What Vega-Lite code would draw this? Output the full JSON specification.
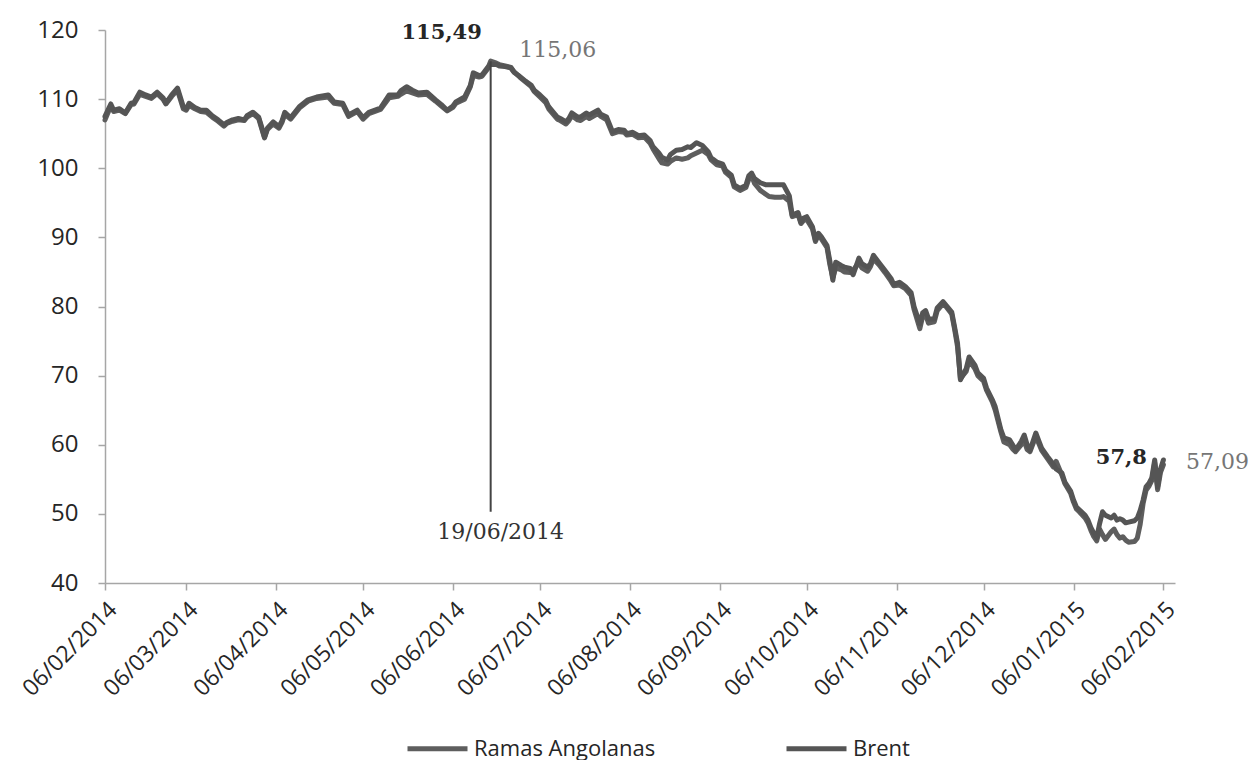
{
  "$schema": "https://vega.github.io/schema/vega-lite/v6.json",
  "width": 1070,
  "height": 553,
  "autosize": {"type": "none"},
  "padding": {"left": 105, "top": 30, "right": 80, "bottom": 177},
  "background": "white",
  "config": {"view": {"stroke": null}},
  "encoding": {
    "x": {
      "field": "date", "type": "temporal",
      "scale": {"type": "utc", "domain": [{"year": 2014, "month": 2, "date": 6, "utc": true}, {"year": 2015, "month": 2, "date": 10, "utc": true}], "nice": false},
      "axis": {
        "title": null, "grid": false, "format": "%d/%m/%Y",
        "values": [
          {"year": 2014, "month": 2, "date": 6, "utc": true}, {"year": 2014, "month": 3, "date": 6, "utc": true},
          {"year": 2014, "month": 4, "date": 6, "utc": true}, {"year": 2014, "month": 5, "date": 6, "utc": true},
          {"year": 2014, "month": 6, "date": 6, "utc": true}, {"year": 2014, "month": 7, "date": 6, "utc": true},
          {"year": 2014, "month": 8, "date": 6, "utc": true}, {"year": 2014, "month": 9, "date": 6, "utc": true},
          {"year": 2014, "month": 10, "date": 6, "utc": true}, {"year": 2014, "month": 11, "date": 6, "utc": true},
          {"year": 2014, "month": 12, "date": 6, "utc": true}, {"year": 2015, "month": 1, "date": 6, "utc": true},
          {"year": 2015, "month": 2, "date": 6, "utc": true}
        ],
        "labelAngle": -45, "labelFont": "Open Sans", "labelFontSize": 23, "labelColor": "#262626",
        "domainColor": "#a6a6a6", "domainWidth": 1.5, "tickColor": "#a6a6a6", "tickWidth": 1.5, "tickSize": 7,
        "labelPadding": 8, "labelOverlap": false, "labelBound": false, "labelFlush": false
      }
    },
    "y": {
      "field": "value", "type": "quantitative",
      "scale": {"domain": [40, 120], "nice": false, "zero": false},
      "axis": {
        "title": null, "grid": false, "values": [40, 50, 60, 70, 80, 90, 100, 110, 120],
        "labelFont": "Open Sans", "labelFontSize": 24, "labelColor": "#262626",
        "domainColor": "#a6a6a6", "domainWidth": 1.5, "tickColor": "#a6a6a6", "tickWidth": 1.5, "tickSize": 7,
        "labelPadding": 20
      }
    }
  },
  "layer": [
    {
      "data": {"values": [
        {"date": "2014-02-06", "Brent": 107.5, "Ramas Angolanas": 107.0},
        {"date": "2014-02-08", "Brent": 109.3, "Ramas Angolanas": 109.0},
        {"date": "2014-02-09", "Brent": 108.4, "Ramas Angolanas": 108.2},
        {"date": "2014-02-11", "Brent": 108.6, "Ramas Angolanas": 108.4},
        {"date": "2014-02-13", "Brent": 108.0, "Ramas Angolanas": 107.9},
        {"date": "2014-02-15", "Brent": 109.4, "Ramas Angolanas": 109.2},
        {"date": "2014-02-16", "Brent": 109.5, "Ramas Angolanas": 109.3},
        {"date": "2014-02-18", "Brent": 111.0, "Ramas Angolanas": 110.7},
        {"date": "2014-02-20", "Brent": 110.6, "Ramas Angolanas": 110.4},
        {"date": "2014-02-22", "Brent": 110.3, "Ramas Angolanas": 110.1},
        {"date": "2014-02-24", "Brent": 111.0, "Ramas Angolanas": 110.8},
        {"date": "2014-02-26", "Brent": 110.2, "Ramas Angolanas": 110.0},
        {"date": "2014-02-27", "Brent": 109.4, "Ramas Angolanas": 109.3},
        {"date": "2014-03-01", "Brent": 110.6, "Ramas Angolanas": 110.4},
        {"date": "2014-03-03", "Brent": 111.6, "Ramas Angolanas": 111.3},
        {"date": "2014-03-05", "Brent": 108.9, "Ramas Angolanas": 108.6},
        {"date": "2014-03-06", "Brent": 108.6, "Ramas Angolanas": 108.4},
        {"date": "2014-03-07", "Brent": 109.4, "Ramas Angolanas": 109.1},
        {"date": "2014-03-09", "Brent": 108.8, "Ramas Angolanas": 108.6},
        {"date": "2014-03-11", "Brent": 108.4, "Ramas Angolanas": 108.2},
        {"date": "2014-03-13", "Brent": 108.4, "Ramas Angolanas": 108.1},
        {"date": "2014-03-15", "Brent": 107.6, "Ramas Angolanas": 107.4},
        {"date": "2014-03-16", "Brent": 107.3, "Ramas Angolanas": 107.1},
        {"date": "2014-03-17", "Brent": 107.0, "Ramas Angolanas": 106.8},
        {"date": "2014-03-19", "Brent": 106.3, "Ramas Angolanas": 106.1},
        {"date": "2014-03-20", "Brent": 106.6, "Ramas Angolanas": 106.5},
        {"date": "2014-03-22", "Brent": 107.0, "Ramas Angolanas": 106.8},
        {"date": "2014-03-24", "Brent": 107.2, "Ramas Angolanas": 107.0},
        {"date": "2014-03-26", "Brent": 107.0, "Ramas Angolanas": 106.9},
        {"date": "2014-03-27", "Brent": 107.6, "Ramas Angolanas": 107.4},
        {"date": "2014-03-29", "Brent": 108.1, "Ramas Angolanas": 107.9},
        {"date": "2014-03-31", "Brent": 107.4, "Ramas Angolanas": 107.2},
        {"date": "2014-04-01", "Brent": 106.0, "Ramas Angolanas": 105.8},
        {"date": "2014-04-02", "Brent": 104.5, "Ramas Angolanas": 104.4},
        {"date": "2014-04-03", "Brent": 105.8, "Ramas Angolanas": 105.6},
        {"date": "2014-04-05", "Brent": 106.7, "Ramas Angolanas": 106.4},
        {"date": "2014-04-07", "Brent": 106.0, "Ramas Angolanas": 105.8},
        {"date": "2014-04-08", "Brent": 106.8, "Ramas Angolanas": 106.6},
        {"date": "2014-04-09", "Brent": 108.1, "Ramas Angolanas": 107.8},
        {"date": "2014-04-11", "Brent": 107.3, "Ramas Angolanas": 107.1},
        {"date": "2014-04-14", "Brent": 108.9, "Ramas Angolanas": 108.7},
        {"date": "2014-04-17", "Brent": 109.9, "Ramas Angolanas": 109.7},
        {"date": "2014-04-20", "Brent": 110.3, "Ramas Angolanas": 110.1},
        {"date": "2014-04-24", "Brent": 110.6, "Ramas Angolanas": 110.3},
        {"date": "2014-04-26", "Brent": 109.6, "Ramas Angolanas": 109.4},
        {"date": "2014-04-29", "Brent": 109.4, "Ramas Angolanas": 109.2},
        {"date": "2014-05-01", "Brent": 107.7, "Ramas Angolanas": 107.5},
        {"date": "2014-05-04", "Brent": 108.4, "Ramas Angolanas": 108.2},
        {"date": "2014-05-06", "Brent": 107.3, "Ramas Angolanas": 107.1},
        {"date": "2014-05-08", "Brent": 108.1, "Ramas Angolanas": 107.9},
        {"date": "2014-05-12", "Brent": 108.7, "Ramas Angolanas": 108.5},
        {"date": "2014-05-15", "Brent": 110.6, "Ramas Angolanas": 110.2},
        {"date": "2014-05-18", "Brent": 110.6, "Ramas Angolanas": 110.4},
        {"date": "2014-05-19", "Brent": 111.2, "Ramas Angolanas": 110.7},
        {"date": "2014-05-21", "Brent": 111.8, "Ramas Angolanas": 111.2},
        {"date": "2014-05-23", "Brent": 111.3, "Ramas Angolanas": 110.9},
        {"date": "2014-05-25", "Brent": 110.9, "Ramas Angolanas": 110.6},
        {"date": "2014-05-28", "Brent": 111.0, "Ramas Angolanas": 110.7},
        {"date": "2014-05-31", "Brent": 109.9, "Ramas Angolanas": 109.7},
        {"date": "2014-06-02", "Brent": 109.2, "Ramas Angolanas": 109.0},
        {"date": "2014-06-04", "Brent": 108.4, "Ramas Angolanas": 108.3},
        {"date": "2014-06-06", "Brent": 109.0, "Ramas Angolanas": 108.8},
        {"date": "2014-06-07", "Brent": 109.6, "Ramas Angolanas": 109.4},
        {"date": "2014-06-10", "Brent": 110.3, "Ramas Angolanas": 110.0},
        {"date": "2014-06-12", "Brent": 112.0, "Ramas Angolanas": 111.8},
        {"date": "2014-06-13", "Brent": 113.8, "Ramas Angolanas": 113.4},
        {"date": "2014-06-15", "Brent": 113.4, "Ramas Angolanas": 113.2},
        {"date": "2014-06-16", "Brent": 113.5, "Ramas Angolanas": 113.3},
        {"date": "2014-06-18", "Brent": 114.6, "Ramas Angolanas": 114.4},
        {"date": "2014-06-19", "Brent": 115.06, "Ramas Angolanas": 115.49},
        {"date": "2014-06-21", "Brent": 115.0, "Ramas Angolanas": 115.2},
        {"date": "2014-06-22", "Brent": 114.8, "Ramas Angolanas": 115.0},
        {"date": "2014-06-24", "Brent": 114.7, "Ramas Angolanas": 114.8},
        {"date": "2014-06-26", "Brent": 114.5, "Ramas Angolanas": 114.6},
        {"date": "2014-06-27", "Brent": 113.9, "Ramas Angolanas": 114.0},
        {"date": "2014-06-29", "Brent": 113.3, "Ramas Angolanas": 113.2},
        {"date": "2014-07-01", "Brent": 112.6, "Ramas Angolanas": 112.5},
        {"date": "2014-07-03", "Brent": 112.0, "Ramas Angolanas": 111.8},
        {"date": "2014-07-04", "Brent": 111.3, "Ramas Angolanas": 111.1},
        {"date": "2014-07-06", "Brent": 110.6, "Ramas Angolanas": 110.3},
        {"date": "2014-07-08", "Brent": 109.8, "Ramas Angolanas": 109.5},
        {"date": "2014-07-09", "Brent": 108.9, "Ramas Angolanas": 108.6},
        {"date": "2014-07-12", "Brent": 107.4, "Ramas Angolanas": 107.1},
        {"date": "2014-07-13", "Brent": 107.2, "Ramas Angolanas": 106.9},
        {"date": "2014-07-15", "Brent": 106.7, "Ramas Angolanas": 106.4},
        {"date": "2014-07-16", "Brent": 107.2, "Ramas Angolanas": 106.9},
        {"date": "2014-07-17", "Brent": 108.0, "Ramas Angolanas": 107.6},
        {"date": "2014-07-19", "Brent": 107.4, "Ramas Angolanas": 107.0},
        {"date": "2014-07-20", "Brent": 107.4, "Ramas Angolanas": 106.9},
        {"date": "2014-07-22", "Brent": 108.0, "Ramas Angolanas": 107.5},
        {"date": "2014-07-23", "Brent": 107.7, "Ramas Angolanas": 107.2},
        {"date": "2014-07-26", "Brent": 108.4, "Ramas Angolanas": 107.9},
        {"date": "2014-07-27", "Brent": 107.8, "Ramas Angolanas": 107.5},
        {"date": "2014-07-29", "Brent": 107.4, "Ramas Angolanas": 107.0},
        {"date": "2014-07-31", "Brent": 105.3, "Ramas Angolanas": 105.0},
        {"date": "2014-08-02", "Brent": 105.6, "Ramas Angolanas": 105.3},
        {"date": "2014-08-04", "Brent": 105.5, "Ramas Angolanas": 105.2},
        {"date": "2014-08-05", "Brent": 105.0, "Ramas Angolanas": 104.8},
        {"date": "2014-08-07", "Brent": 105.2, "Ramas Angolanas": 104.9},
        {"date": "2014-08-09", "Brent": 104.7, "Ramas Angolanas": 104.4},
        {"date": "2014-08-11", "Brent": 104.8, "Ramas Angolanas": 104.5},
        {"date": "2014-08-13", "Brent": 104.0, "Ramas Angolanas": 103.6},
        {"date": "2014-08-14", "Brent": 103.1, "Ramas Angolanas": 102.8},
        {"date": "2014-08-16", "Brent": 102.2, "Ramas Angolanas": 101.4},
        {"date": "2014-08-17", "Brent": 101.6, "Ramas Angolanas": 100.8},
        {"date": "2014-08-19", "Brent": 101.2, "Ramas Angolanas": 100.6},
        {"date": "2014-08-20", "Brent": 102.0, "Ramas Angolanas": 101.0},
        {"date": "2014-08-22", "Brent": 102.6, "Ramas Angolanas": 101.5},
        {"date": "2014-08-24", "Brent": 102.7, "Ramas Angolanas": 101.3},
        {"date": "2014-08-26", "Brent": 103.1, "Ramas Angolanas": 101.5},
        {"date": "2014-08-27", "Brent": 103.0, "Ramas Angolanas": 101.8},
        {"date": "2014-08-29", "Brent": 103.7, "Ramas Angolanas": 102.2},
        {"date": "2014-08-31", "Brent": 103.3, "Ramas Angolanas": 102.6},
        {"date": "2014-09-02", "Brent": 102.4, "Ramas Angolanas": 102.0},
        {"date": "2014-09-03", "Brent": 101.5, "Ramas Angolanas": 101.2},
        {"date": "2014-09-05", "Brent": 100.9, "Ramas Angolanas": 100.5},
        {"date": "2014-09-07", "Brent": 100.6, "Ramas Angolanas": 100.3},
        {"date": "2014-09-08", "Brent": 99.7, "Ramas Angolanas": 99.4},
        {"date": "2014-09-10", "Brent": 99.0, "Ramas Angolanas": 98.7},
        {"date": "2014-09-11", "Brent": 97.6, "Ramas Angolanas": 97.3},
        {"date": "2014-09-13", "Brent": 97.1, "Ramas Angolanas": 96.8},
        {"date": "2014-09-15", "Brent": 97.5, "Ramas Angolanas": 97.2},
        {"date": "2014-09-16", "Brent": 98.9, "Ramas Angolanas": 98.4},
        {"date": "2014-09-17", "Brent": 99.3, "Ramas Angolanas": 98.9},
        {"date": "2014-09-18", "Brent": 98.5, "Ramas Angolanas": 97.8},
        {"date": "2014-09-20", "Brent": 97.9, "Ramas Angolanas": 96.8},
        {"date": "2014-09-22", "Brent": 97.6, "Ramas Angolanas": 96.2},
        {"date": "2014-09-23", "Brent": 97.6, "Ramas Angolanas": 95.9},
        {"date": "2014-09-25", "Brent": 97.6, "Ramas Angolanas": 95.8},
        {"date": "2014-09-27", "Brent": 97.6, "Ramas Angolanas": 95.8},
        {"date": "2014-09-28", "Brent": 97.6, "Ramas Angolanas": 95.9},
        {"date": "2014-09-30", "Brent": 96.0, "Ramas Angolanas": 95.2},
        {"date": "2014-10-01", "Brent": 93.2, "Ramas Angolanas": 93.0},
        {"date": "2014-10-03", "Brent": 93.6, "Ramas Angolanas": 93.3},
        {"date": "2014-10-04", "Brent": 92.2, "Ramas Angolanas": 92.0},
        {"date": "2014-10-05", "Brent": 92.8, "Ramas Angolanas": 92.5},
        {"date": "2014-10-06", "Brent": 93.0, "Ramas Angolanas": 92.6},
        {"date": "2014-10-08", "Brent": 91.5, "Ramas Angolanas": 91.2},
        {"date": "2014-10-09", "Brent": 89.6, "Ramas Angolanas": 89.4},
        {"date": "2014-10-10", "Brent": 90.6, "Ramas Angolanas": 90.3},
        {"date": "2014-10-11", "Brent": 90.1, "Ramas Angolanas": 89.8},
        {"date": "2014-10-13", "Brent": 88.8, "Ramas Angolanas": 88.5},
        {"date": "2014-10-14", "Brent": 86.5, "Ramas Angolanas": 86.0},
        {"date": "2014-10-15", "Brent": 83.8, "Ramas Angolanas": 84.2},
        {"date": "2014-10-16", "Brent": 86.4, "Ramas Angolanas": 85.6},
        {"date": "2014-10-18", "Brent": 85.9, "Ramas Angolanas": 85.3},
        {"date": "2014-10-19", "Brent": 85.7, "Ramas Angolanas": 85.0},
        {"date": "2014-10-21", "Brent": 85.5, "Ramas Angolanas": 84.9},
        {"date": "2014-10-22", "Brent": 84.6, "Ramas Angolanas": 85.2},
        {"date": "2014-10-24", "Brent": 87.0, "Ramas Angolanas": 86.4},
        {"date": "2014-10-25", "Brent": 86.2, "Ramas Angolanas": 85.6},
        {"date": "2014-10-27", "Brent": 85.7, "Ramas Angolanas": 85.1},
        {"date": "2014-10-28", "Brent": 86.2, "Ramas Angolanas": 85.8},
        {"date": "2014-10-29", "Brent": 87.4, "Ramas Angolanas": 86.9},
        {"date": "2014-10-31", "Brent": 86.3, "Ramas Angolanas": 86.0},
        {"date": "2014-11-02", "Brent": 85.2, "Ramas Angolanas": 84.9},
        {"date": "2014-11-04", "Brent": 84.1, "Ramas Angolanas": 83.7},
        {"date": "2014-11-05", "Brent": 83.2, "Ramas Angolanas": 83.0},
        {"date": "2014-11-07", "Brent": 83.5, "Ramas Angolanas": 83.1},
        {"date": "2014-11-09", "Brent": 82.9, "Ramas Angolanas": 82.6},
        {"date": "2014-11-11", "Brent": 82.0, "Ramas Angolanas": 81.6},
        {"date": "2014-11-12", "Brent": 80.0, "Ramas Angolanas": 79.6},
        {"date": "2014-11-14", "Brent": 77.5, "Ramas Angolanas": 76.8},
        {"date": "2014-11-15", "Brent": 79.1, "Ramas Angolanas": 78.6},
        {"date": "2014-11-16", "Brent": 79.4, "Ramas Angolanas": 78.8},
        {"date": "2014-11-17", "Brent": 78.2, "Ramas Angolanas": 77.6},
        {"date": "2014-11-19", "Brent": 78.2, "Ramas Angolanas": 77.8},
        {"date": "2014-11-20", "Brent": 79.8, "Ramas Angolanas": 79.4},
        {"date": "2014-11-22", "Brent": 80.7, "Ramas Angolanas": 80.4},
        {"date": "2014-11-23", "Brent": 80.2, "Ramas Angolanas": 80.0},
        {"date": "2014-11-25", "Brent": 79.2, "Ramas Angolanas": 78.9},
        {"date": "2014-11-26", "Brent": 77.0, "Ramas Angolanas": 76.7},
        {"date": "2014-11-27", "Brent": 74.7, "Ramas Angolanas": 74.2},
        {"date": "2014-11-28", "Brent": 69.4, "Ramas Angolanas": 69.6},
        {"date": "2014-11-30", "Brent": 71.0, "Ramas Angolanas": 70.6},
        {"date": "2014-12-01", "Brent": 72.7, "Ramas Angolanas": 72.2},
        {"date": "2014-12-03", "Brent": 71.5, "Ramas Angolanas": 71.0},
        {"date": "2014-12-04", "Brent": 70.4, "Ramas Angolanas": 70.0},
        {"date": "2014-12-06", "Brent": 69.6, "Ramas Angolanas": 69.2},
        {"date": "2014-12-07", "Brent": 68.2, "Ramas Angolanas": 67.9},
        {"date": "2014-12-09", "Brent": 66.5, "Ramas Angolanas": 66.2},
        {"date": "2014-12-10", "Brent": 65.5, "Ramas Angolanas": 65.0},
        {"date": "2014-12-12", "Brent": 62.1, "Ramas Angolanas": 61.8},
        {"date": "2014-12-13", "Brent": 61.0, "Ramas Angolanas": 60.4},
        {"date": "2014-12-15", "Brent": 60.7, "Ramas Angolanas": 60.0},
        {"date": "2014-12-16", "Brent": 60.0, "Ramas Angolanas": 59.4},
        {"date": "2014-12-17", "Brent": 59.2, "Ramas Angolanas": 59.0},
        {"date": "2014-12-19", "Brent": 60.5, "Ramas Angolanas": 60.0},
        {"date": "2014-12-20", "Brent": 61.4, "Ramas Angolanas": 60.6},
        {"date": "2014-12-21", "Brent": 60.0, "Ramas Angolanas": 59.3},
        {"date": "2014-12-22", "Brent": 59.2, "Ramas Angolanas": 59.0},
        {"date": "2014-12-24", "Brent": 61.7, "Ramas Angolanas": 61.2},
        {"date": "2014-12-25", "Brent": 60.6, "Ramas Angolanas": 60.2},
        {"date": "2014-12-26", "Brent": 59.5, "Ramas Angolanas": 59.2},
        {"date": "2014-12-28", "Brent": 58.3, "Ramas Angolanas": 58.0},
        {"date": "2014-12-30", "Brent": 57.2, "Ramas Angolanas": 56.8},
        {"date": "2014-12-31", "Brent": 56.5, "Ramas Angolanas": 57.6},
        {"date": "2015-01-02", "Brent": 55.9, "Ramas Angolanas": 55.6},
        {"date": "2015-01-03", "Brent": 54.6, "Ramas Angolanas": 54.4},
        {"date": "2015-01-05", "Brent": 53.3, "Ramas Angolanas": 53.0},
        {"date": "2015-01-06", "Brent": 52.0, "Ramas Angolanas": 51.7},
        {"date": "2015-01-07", "Brent": 51.0, "Ramas Angolanas": 50.7},
        {"date": "2015-01-08", "Brent": 50.6, "Ramas Angolanas": 50.3},
        {"date": "2015-01-10", "Brent": 49.8, "Ramas Angolanas": 49.4},
        {"date": "2015-01-11", "Brent": 49.1, "Ramas Angolanas": 48.7},
        {"date": "2015-01-12", "Brent": 48.0, "Ramas Angolanas": 47.6},
        {"date": "2015-01-13", "Brent": 47.2, "Ramas Angolanas": 46.7},
        {"date": "2015-01-14", "Brent": 46.5, "Ramas Angolanas": 46.1},
        {"date": "2015-01-15", "Brent": 48.6, "Ramas Angolanas": 47.8},
        {"date": "2015-01-16", "Brent": 50.3, "Ramas Angolanas": 47.0},
        {"date": "2015-01-17", "Brent": 49.8, "Ramas Angolanas": 46.3},
        {"date": "2015-01-19", "Brent": 49.4, "Ramas Angolanas": 47.4},
        {"date": "2015-01-20", "Brent": 49.8, "Ramas Angolanas": 47.8},
        {"date": "2015-01-21", "Brent": 49.1, "Ramas Angolanas": 47.0},
        {"date": "2015-01-22", "Brent": 49.3, "Ramas Angolanas": 46.5},
        {"date": "2015-01-23", "Brent": 49.1, "Ramas Angolanas": 46.7},
        {"date": "2015-01-24", "Brent": 48.7, "Ramas Angolanas": 46.2},
        {"date": "2015-01-25", "Brent": 48.8, "Ramas Angolanas": 45.9},
        {"date": "2015-01-27", "Brent": 49.0, "Ramas Angolanas": 46.0},
        {"date": "2015-01-28", "Brent": 49.4, "Ramas Angolanas": 46.5},
        {"date": "2015-01-29", "Brent": 50.5, "Ramas Angolanas": 48.5},
        {"date": "2015-01-30", "Brent": 52.0, "Ramas Angolanas": 51.5},
        {"date": "2015-01-31", "Brent": 53.9, "Ramas Angolanas": 53.4},
        {"date": "2015-02-01", "Brent": 54.4, "Ramas Angolanas": 54.0},
        {"date": "2015-02-02", "Brent": 55.2, "Ramas Angolanas": 54.8},
        {"date": "2015-02-03", "Brent": 57.8, "Ramas Angolanas": 57.4},
        {"date": "2015-02-04", "Brent": 53.9, "Ramas Angolanas": 53.5},
        {"date": "2015-02-05", "Brent": 56.5, "Ramas Angolanas": 56.0},
        {"date": "2015-02-06", "Brent": 57.8, "Ramas Angolanas": 57.09}
      ]},
      "transform": [{"fold": ["Ramas Angolanas", "Brent"], "as": ["series", "value"]}],
      "mark": {"type": "line", "strokeWidth": 5, "strokeJoin": "round", "strokeCap": "round"},
      "encoding": {
        "color": {
          "field": "series", "type": "nominal",
          "scale": {"domain": ["Ramas Angolanas", "Brent"], "range": ["#5e5e5e", "#555555"]},
          "legend": {
            "orient": "none", "legendX": 300, "legendY": 686, "direction": "horizontal", "title": null,
            "symbolType": "stroke", "symbolSize": 3600, "symbolStrokeWidth": 5,
            "labelFont": "Open Sans", "labelFontSize": 22, "labelColor": "#262626", "labelLimit": 400,
            "columnPadding": 120, "labelOffset": 4
          }
        }
      }
    },
    {
      "data": {"values": [{"date": "2014-06-19", "value": 115.49, "value2": 50.3}]},
      "mark": {"type": "rule", "color": "#444444", "strokeWidth": 2},
      "encoding": {"y2": {"field": "value2"}}
    },
    {
      "data": {"values": [{"date": "2014-06-19", "value": 115.49, "label": "115,49"}]},
      "mark": {"type": "text", "font": "DejaVu Serif", "fontWeight": "bold", "fontSize": 21, "color": "#262626", "dx": -49, "dy": -28, "align": "center", "baseline": "middle"},
      "encoding": {"text": {"field": "label"}}
    },
    {
      "data": {"values": [{"date": "2014-06-19", "value": 115.06, "label": "115,06"}]},
      "mark": {"type": "text", "font": "DejaVu Serif", "fontSize": 22, "color": "#767676", "dx": 67, "dy": -14, "align": "center", "baseline": "middle"},
      "encoding": {"text": {"field": "label"}}
    },
    {
      "data": {"values": [{"date": "2014-06-19", "value": 50.3, "label": "19/06/2014"}]},
      "mark": {"type": "text", "font": "DejaVu Serif", "fontSize": 22, "color": "#333333", "dx": 10, "dy": 20, "align": "center", "baseline": "middle"},
      "encoding": {"text": {"field": "label"}}
    },
    {
      "data": {"values": [{"date": "2015-02-06", "value": 57.8, "label": "57,8"}]},
      "mark": {"type": "text", "font": "DejaVu Serif", "fontWeight": "bold", "fontSize": 21, "color": "#262626", "dx": -42, "dy": -2, "align": "center", "baseline": "middle"},
      "encoding": {"text": {"field": "label"}}
    },
    {
      "data": {"values": [{"date": "2015-02-06", "value": 57.09, "label": "57,09"}]},
      "mark": {"type": "text", "font": "DejaVu Serif", "fontSize": 22, "color": "#767676", "dx": 54, "dy": -3, "align": "center", "baseline": "middle"},
      "encoding": {"text": {"field": "label"}}
    }
  ]
}
